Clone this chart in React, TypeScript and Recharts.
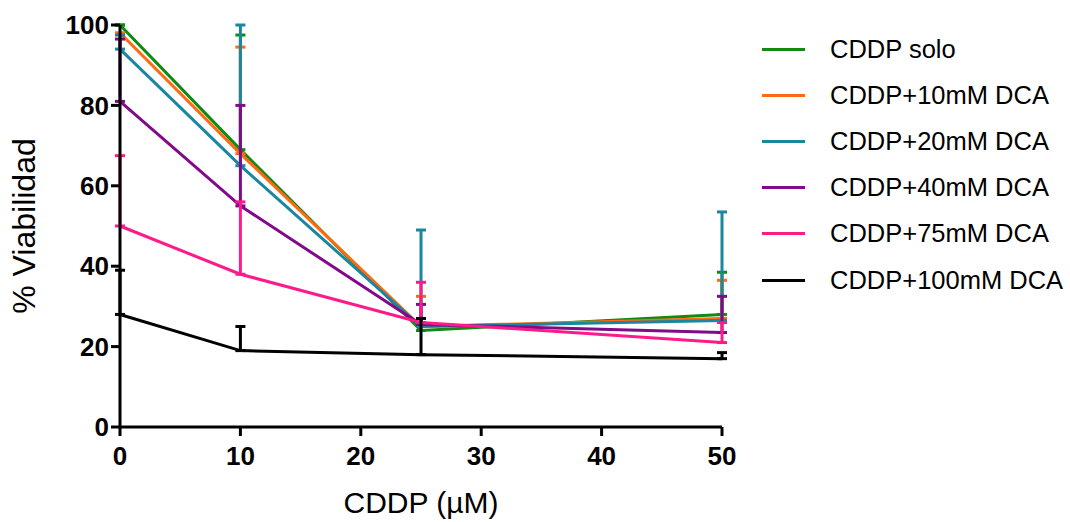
import { LineChart, Line, XAxis, YAxis, ErrorBar, Label } from 'recharts';

const doses = [0, 10, 25, 50];

const solo = [100, 69, 24, 28];
const soloErr = [0, 28.5, 2, 10.5];
const dca10 = [98, 68, 25, 27];
const dca10Err = [0, 26.5, 7.5, 9.5];
const dca20 = [94, 65, 25, 26.5];
const dca20Err = [3.5, 35, 24, 27];
const dca40 = [81, 55, 25.5, 23.5];
const dca40Err = [15.5, 25, 5, 9];
const dca75 = [50, 38, 26, 21];
const dca75Err = [17.5, 18, 10, 5];
const dca100 = [28, 19, 18, 17];
const dca100Err = [11, 6, 9, 1.5];

const xTicks = [0, 10, 20, 30, 40, 50];
const yTicks = [0, 20, 40, 60, 80, 100];

const series = [
  { key: 'solo', name: 'CDDP solo', color: '#108a10', values: solo, errs: soloErr },
  { key: 'dca10', name: 'CDDP+10mM DCA', color: '#ff6a10', values: dca10, errs: dca10Err },
  { key: 'dca20', name: 'CDDP+20mM DCA', color: '#1a86a0', values: dca20, errs: dca20Err },
  { key: 'dca40', name: 'CDDP+40mM DCA', color: '#800a8a', values: dca40, errs: dca40Err },
  { key: 'dca75', name: 'CDDP+75mM DCA', color: '#ff1a8a', values: dca75, errs: dca75Err },
  { key: 'dca100', name: 'CDDP+100mM DCA', color: '#000000', values: dca100, errs: dca100Err },
];

const chartData = doses.map((d, i) => {
  const row: Record<string, any> = { dose: d };
  series.forEach((s) => {
    row[s.key] = s.values[i];
    row[s.key + 'Err'] = [0, s.errs[i]];
  });
  return row;
});

const FONT = '"Liberation Sans", Arial, sans-serif';

const App = () => {
  return (
    <div style={{ position: 'absolute', left: 0, top: 0, width: 1070, height: 522, background: '#fff' }}>
      <LineChart
        width={1070}
        height={522}
        data={chartData}
        margin={{ top: 25, right: 348, left: 0, bottom: 0 }}
      >
        <XAxis
          dataKey="dose"
          type="number"
          domain={[0, 50]}
          ticks={xTicks}
          height={95}
          tickSize={9}
          axisLine={{ stroke: '#000', strokeWidth: 3 }}
          tickLine={{ stroke: '#000', strokeWidth: 3 }}
          tick={{ fill: '#000', fontSize: 26, fontWeight: 'bold', fontFamily: FONT, dy: 9 }}
        >
          <Label
            value="CDDP (µM)"
            position="insideBottom"
            offset={9}
            style={{ fill: '#000', fontSize: 30, fontFamily: FONT }}
          />
        </XAxis>
        <YAxis
          type="number"
          domain={[0, 100]}
          ticks={yTicks}
          width={120}
          tickSize={9}
          axisLine={{ stroke: '#000', strokeWidth: 3 }}
          tickLine={{ stroke: '#000', strokeWidth: 3 }}
          tick={{ fill: '#000', fontSize: 26, fontWeight: 'bold', fontFamily: FONT }}
        >
          <Label
            value="% Viabilidad"
            angle={-90}
            position="insideLeft"
            offset={24}
            style={{ fill: '#000', fontSize: 32, fontFamily: FONT, textAnchor: 'middle' }}
          />
        </YAxis>
        {series.map((s) => (
          <Line
            key={s.key}
            type="linear"
            dataKey={s.key}
            name={s.name}
            stroke={s.color}
            strokeWidth={3}
            dot={false}
            activeDot={false}
            isAnimationActive={false}
          >
            <ErrorBar
              dataKey={s.key + 'Err'}
              direction="y"
              width={5}
              stroke={s.color}
              strokeWidth={3}
              isAnimationActive={false}
            />
          </Line>
        ))}
      </LineChart>
      {/* legend */}
      <div style={{ position: 'absolute', left: 762, top: 26, fontFamily: FONT, fontSize: 25.5, color: '#000' }}>
        {series.map((s) => (
          <div key={s.key} style={{ display: 'flex', alignItems: 'center', height: 46.2, whiteSpace: 'nowrap' }}>
            <div style={{ width: 43, height: 3, background: s.color, marginRight: 25 }} />
            <span>{s.name}</span>
          </div>
        ))}
      </div>
    </div>
  );
};

export default App;
